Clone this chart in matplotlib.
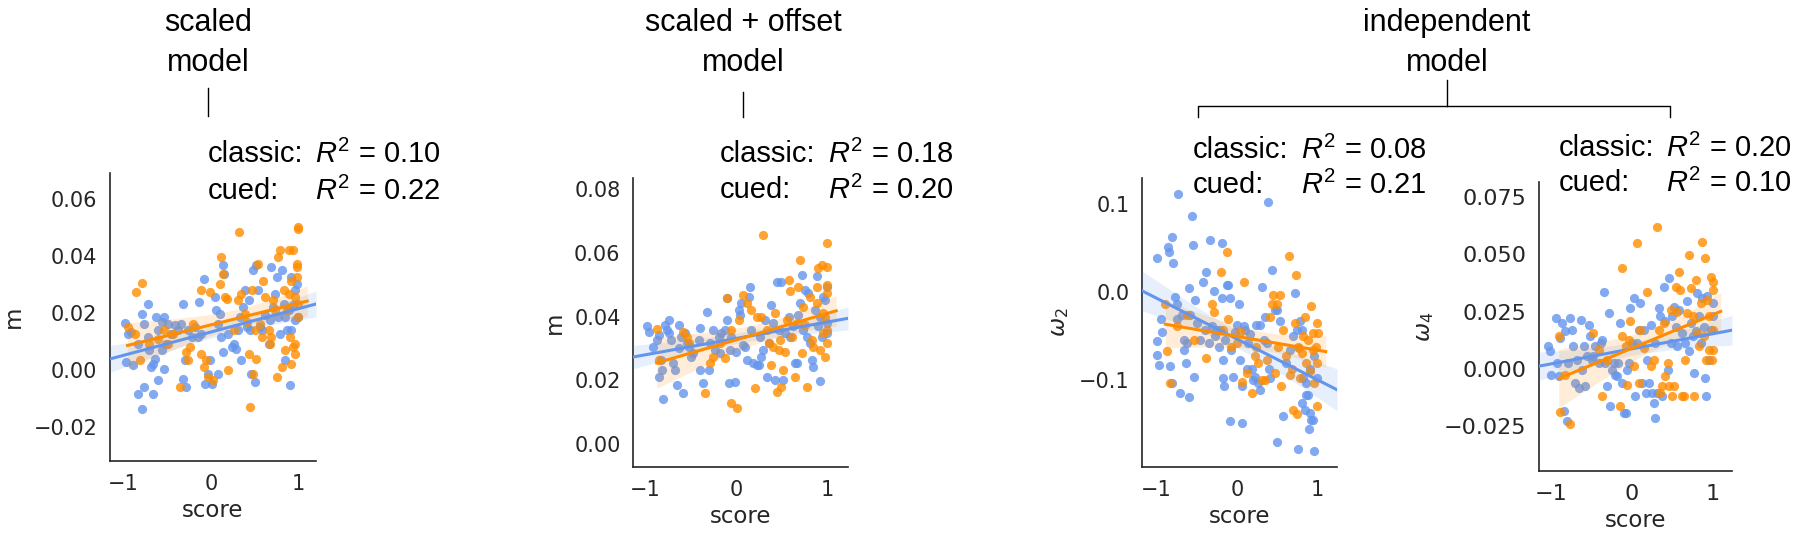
import numpy as np
import matplotlib
matplotlib.use("Agg")
import matplotlib.pyplot as plt
from matplotlib.lines import Line2D

# --- data: (score, parameter) pairs ---
# blue = classic, orange = cued
SCALED_CLASSIC = [
    (-0.98, 0.0164), (-0.95, 0.0126), (-0.91, 0.0132), (-0.97, 0.0027), (-0.89, 0.0015),
    (-0.83, -0.0084), (-0.79, -0.0137), (-0.76, -0.0061), (-0.66, -0.0084), (-0.72, 0.0232),
    (-0.79, 0.0196), (-0.83, 0.0091), (-0.76, 0.0161), (-0.72, 0.0115), (-0.70, 0.0068),
    (-0.64, 0.0039), (-0.66, 0.0021), (-0.68, 0.0009), (-0.62, 0.0185), (-0.60, 0.0138),
    (-0.56, 0.0167), (-0.53, 0.0185), (-0.49, 0.0161), (-0.51, 0.0091), (-0.56, 0.0068),
    (-0.60, -0.0037), (-0.53, 0.0004), (-0.45, 0.0126), (-0.41, 0.0156), (-0.37, 0.0138),
    (-0.34, 0.0161), (-0.32, 0.0232), (-0.30, 0.0033), (-0.32, -0.0032), (-0.28, -0.0061),
    (-0.26, 0.0138), (-0.22, 0.0115), (-0.18, 0.0150), (-0.15, 0.0115), (-0.11, 0.0126),
    (-0.13, 0.0237), (-0.08, 0.0319), (-0.07, -0.0049), (-0.03, -0.0014), (-0.01, 0.0033),
    (0.01, -0.0049), (0.05, 0.0255), (0.06, 0.0208), (0.08, 0.0161), (0.10, 0.0196),
    (0.12, 0.0115), (0.14, 0.0062), (0.08, -0.0014), (0.14, 0.0366), (0.15, 0.0337),
    (0.20, 0.0126), (0.24, 0.0080), (0.27, 0.0091), (0.29, 0.0074), (0.31, 0.0138),
    (0.33, 0.0185), (0.35, 0.0033), (0.37, 0.0220), (0.39, 0.0278), (0.41, 0.0150),
    (0.43, 0.0243), (0.45, 0.0138), (0.46, -0.0014), (0.50, -0.0043), (0.48, 0.0349),
    (0.52, 0.0366), (0.54, 0.0278), (0.56, 0.0150), (0.58, 0.0138), (0.62, 0.0191),
    (0.66, 0.0091), (0.68, 0.0173), (0.69, 0.0360), (0.71, 0.0220), (0.73, 0.0267),
    (0.75, 0.0325), (0.77, 0.0185), (0.79, 0.0126), (0.81, 0.0349), (0.83, 0.0232),
    (0.85, 0.0185), (0.87, 0.0138), (0.89, 0.0208), (0.90, -0.0055), (0.92, 0.0325),
    (0.94, 0.0226), (0.96, 0.0173), (0.98, 0.0302), (1.00, 0.0185), (0.96, 0.0278),
    (0.92, 0.0138), (0.85, 0.0033),
]
SCALED_CUED = [
    (-0.95, 0.0150), (-0.85, 0.0273), (-0.79, 0.0304), (-0.87, 0.0126), (-0.81, 0.0033),
    (-0.70, 0.0091), (-0.60, 0.0109), (-0.53, 0.0138), (-0.49, 0.0091), (-0.43, 0.0126),
    (-0.35, -0.0061), (-0.28, 0.0062), (-0.26, 0.0033), (-0.24, 0.0080), (-0.20, 0.0161),
    (-0.11, 0.0278), (-0.11, 0.0056), (-0.08, 0.0009), (-0.05, 0.0033), (-0.03, -0.0026),
    (-0.01, 0.0273), (0.03, -0.0037), (0.10, 0.0302), (0.12, 0.0395), (0.14, 0.0337),
    (0.16, 0.0255), (0.18, 0.0249), (0.20, -0.0002), (0.27, 0.0138), (0.31, 0.0243),
    (0.32, 0.0483), (0.35, 0.0267), (0.39, 0.0196), (0.41, 0.0167), (0.43, 0.0056),
    (0.45, -0.0131), (0.47, 0.0278), (0.48, -0.0014), (0.50, 0.0138), (0.52, 0.0039),
    (0.54, 0.0372), (0.56, 0.0161), (0.58, 0.0115), (0.60, 0.0313), (0.62, 0.0255),
    (0.66, 0.0138), (0.68, 0.0091), (0.69, 0.0115), (0.71, 0.0243), (0.73, 0.0208),
    (0.75, -0.0026), (0.77, 0.0395), (0.79, 0.0419), (0.81, 0.0009), (0.83, 0.0278),
    (0.85, 0.0068), (0.87, 0.0208), (0.89, 0.0419), (0.90, 0.0115), (0.92, 0.0021),
    (0.94, 0.0080), (0.96, 0.0091), (0.96, 0.0255), (0.98, 0.0372), (0.98, 0.0360),
    (1.00, 0.0501), (1.00, 0.0495), (0.98, 0.0325), (1.00, 0.0185), (1.00, 0.0232),
    (0.94, 0.0419), (0.89, 0.0267), (0.92, 0.0313), (0.96, 0.0056),
]

OFFSET_CLASSIC = [
    (-0.98, 0.0371), (-0.95, 0.0353), (-0.91, 0.0306), (-0.87, 0.0327), (-0.85, 0.0342),
    (-0.84, 0.0212), (-0.82, 0.0264), (-0.81, 0.0232), (-0.80, 0.0140), (-0.78, 0.0374),
    (-0.76, 0.0358), (-0.74, 0.0348), (-0.73, 0.0390), (-0.71, 0.0327), (-0.69, 0.0253),
    (-0.67, 0.0232), (-0.65, 0.0185), (-0.63, 0.0301), (-0.62, 0.0374), (-0.60, 0.0337),
    (-0.58, 0.0159), (-0.56, 0.0348), (-0.54, 0.0316), (-0.52, 0.0306), (-0.49, 0.0274),
    (-0.47, 0.0285), (-0.41, 0.0327), (-0.40, 0.0363), (-0.40, 0.0232), (-0.36, 0.0191),
    (-0.32, 0.0416), (-0.30, 0.0232), (-0.29, 0.0316), (-0.25, 0.0358), (-0.23, 0.0295),
    (-0.19, 0.0337), (-0.18, 0.0285), (-0.16, 0.0348), (-0.12, 0.0358), (-0.10, 0.0390),
    (-0.10, 0.0458), (-0.08, 0.0191), (-0.07, 0.0295), (-0.05, 0.0337), (-0.01, 0.0196),
    (0.00, 0.0290), (0.03, 0.0421), (0.04, 0.0405), (0.06, 0.0442), (0.08, 0.0311),
    (0.10, 0.0306), (0.12, 0.0264), (0.14, 0.0463), (0.15, 0.0494), (0.17, 0.0358),
    (0.19, 0.0253), (0.23, 0.0248), (0.25, 0.0248), (0.26, 0.0337), (0.28, 0.0274),
    (0.30, 0.0295), (0.32, 0.0390), (0.34, 0.0212), (0.36, 0.0316), (0.39, 0.0437),
    (0.41, 0.0379), (0.43, 0.0201), (0.45, 0.0510), (0.47, 0.0358), (0.50, 0.0510),
    (0.52, 0.0201), (0.54, 0.0348), (0.58, 0.0400), (0.59, 0.0337), (0.63, 0.0369),
    (0.65, 0.0253), (0.67, 0.0253), (0.68, 0.0405), (0.72, 0.0531), (0.74, 0.0358),
    (0.76, 0.0484), (0.79, 0.0473), (0.81, 0.0316), (0.83, 0.0264), (0.85, 0.0243),
    (0.87, 0.0421), (0.89, 0.0526), (0.90, 0.0369), (0.92, 0.0199), (0.92, 0.0400),
    (0.96, 0.0463), (0.98, 0.0452), (1.00, 0.0379), (1.00, 0.0494), (1.00, 0.0348),
    (0.94, 0.0337), (0.78, 0.0337), (0.70, 0.0442),
]
OFFSET_CUED = [
    (-0.87, 0.0360), (-0.84, 0.0264), (-0.58, 0.0353), (-0.54, 0.0337), (-0.52, 0.0316),
    (-0.34, 0.0159), (-0.29, 0.0253), (-0.25, 0.0274), (-0.18, 0.0316), (-0.12, 0.0269),
    (-0.10, 0.0458), (-0.05, 0.0358), (-0.05, 0.0128), (0.01, 0.0112), (0.03, 0.0390),
    (0.08, 0.0468), (0.12, 0.0442), (0.17, 0.0421), (0.21, 0.0175), (0.23, 0.0400),
    (0.28, 0.0400), (0.30, 0.0657), (0.34, 0.0358), (0.36, 0.0316), (0.39, 0.0248),
    (0.41, 0.0306), (0.43, 0.0410), (0.45, 0.0164), (0.47, 0.0295), (0.48, 0.0327),
    (0.50, 0.0180), (0.52, 0.0232), (0.54, 0.0290), (0.56, 0.0390), (0.58, 0.0515),
    (0.59, 0.0479), (0.61, 0.0337), (0.65, 0.0212), (0.67, 0.0379), (0.68, 0.0494),
    (0.70, 0.0578), (0.72, 0.0285), (0.74, 0.0431), (0.76, 0.0374), (0.78, 0.0180),
    (0.81, 0.0463), (0.83, 0.0327), (0.85, 0.0306), (0.89, 0.0442), (0.90, 0.0552),
    (0.92, 0.0295), (0.94, 0.0562), (0.96, 0.0348), (0.98, 0.0400), (1.00, 0.0630),
    (1.00, 0.0499), (1.00, 0.0473), (1.00, 0.0316), (0.98, 0.0274), (1.00, 0.0358),
    (1.00, 0.0557), (0.96, 0.0410), (0.89, 0.0494),
]

W2_CLASSIC = [
    (-1.00, 0.039), (-1.00, -0.055), (-0.99, -0.071), (-0.97, -0.083), (-0.95, -0.030),
    (-0.93, -0.045), (-0.86, 0.052), (-0.84, 0.046), (-0.83, -0.084), (-0.81, 0.063),
    (-0.79, 0.033), (-0.81, -0.103), (-0.77, -0.005), (-0.75, -0.014), (-0.73, 0.112),
    (-0.74, -0.031), (-0.71, -0.115), (-0.68, -0.026), (-0.66, -0.054), (-0.66, -0.066),
    (-0.64, -0.081), (-0.62, -0.058), (-0.60, 0.005), (-0.60, -0.119), (-0.58, -0.026),
    (-0.56, 0.087), (-0.55, 0.054), (-0.54, -0.096), (-0.52, -0.009), (-0.50, -0.035),
    (-0.46, -0.054), (-0.42, 0.012), (-0.40, -0.043), (-0.38, 0.023), (-0.35, -0.058),
    (-0.33, 0.059), (-0.31, -0.039), (-0.29, 0.001), (-0.27, -0.050), (-0.25, -0.043),
    (-0.23, -0.062), (-0.21, -0.043), (-0.19, 0.056), (-0.19, -0.007), (-0.18, -0.098),
    (-0.17, -0.077), (-0.16, -0.107), (-0.15, -0.054), (-0.13, 0.008), (-0.11, 0.008),
    (-0.09, -0.007), (-0.09, -0.147), (-0.07, -0.066), (-0.05, -0.096), (-0.02, -0.045),
    (0.00, -0.037), (0.02, -0.013), (0.04, -0.077), (0.06, -0.107), (0.06, -0.149),
    (0.08, -0.039), (0.10, -0.043), (0.12, -0.088), (0.14, -0.058), (0.16, -0.048),
    (0.18, -0.088), (0.20, -0.100), (0.22, -0.096), (0.24, -0.037), (0.26, -0.103),
    (0.28, -0.111), (0.28, -0.037), (0.31, 0.006), (0.33, -0.054), (0.35, -0.028),
    (0.37, -0.058), (0.38, 0.103), (0.39, -0.088), (0.41, -0.098), (0.43, 0.025),
    (0.47, -0.020), (0.49, -0.020), (0.50, -0.170), (0.53, -0.033), (0.57, -0.141),
    (0.61, -0.081), (0.66, -0.066), (0.70, -0.050), (0.72, -0.001), (0.74, -0.043),
    (0.76, -0.179), (0.77, -0.064), (0.78, -0.033), (0.80, -0.126), (0.81, -0.043),
    (0.82, -0.098), (0.84, -0.134), (0.85, -0.103), (0.86, -0.117), (0.88, -0.117),
    (0.89, -0.156), (0.90, -0.138), (0.91, -0.088), (0.92, -0.145), (0.94, -0.145),
    (0.96, -0.181), (0.99, -0.098), (0.96, -0.073),
]
W2_CUED = [
    (-0.89, -0.014), (-0.87, -0.067), (-0.83, -0.103), (-0.75, -0.039), (-0.62, -0.026),
    (-0.54, -0.054), (-0.38, -0.075), (-0.31, -0.013), (-0.29, -0.022), (-0.20, 0.023),
    (-0.17, -0.043), (-0.13, 0.046), (-0.11, -0.030), (-0.07, -0.062), (0.00, -0.058),
    (0.04, -0.045), (0.06, -0.102), (0.08, 0.012), (0.12, -0.092), (0.18, -0.115),
    (0.22, -0.073), (0.24, -0.062), (0.26, -0.081), (0.31, -0.100), (0.35, -0.100),
    (0.37, -0.077), (0.41, -0.028), (0.43, -0.013), (0.45, -0.003), (0.47, -0.092),
    (0.49, -0.013), (0.51, -0.062), (0.53, -0.003), (0.55, -0.107), (0.57, -0.043),
    (0.61, -0.073), (0.64, 0.041), (0.66, -0.094), (0.68, -0.088), (0.70, -0.134),
    (0.72, -0.035), (0.73, 0.020), (0.74, -0.139), (0.76, -0.062), (0.78, -0.098),
    (0.80, -0.069), (0.82, -0.050), (0.84, -0.028), (0.86, -0.081), (0.88, -0.054),
    (0.90, -0.090), (0.92, -0.016), (0.94, -0.066), (0.94, -0.047), (0.96, -0.103),
    (0.98, -0.062), (0.99, -0.035), (0.99, -0.130), (1.00, -0.047), (0.99, -0.081),
]

W4_CLASSIC = [
    (-1.04, 0.0101), (-1.02, 0.0077), (-1.00, -0.0025), (-0.95, 0.0222), (-0.93, 0.0026),
    (-0.91, -0.0032), (-0.89, 0.0135), (-0.87, 0.0200), (-0.85, -0.0184), (-0.83, 0.0164),
    (-0.81, -0.0227), (-0.79, 0.0026), (-0.77, 0.0222), (-0.75, 0.0171), (-0.73, 0.0098),
    (-0.71, -0.0061), (-0.68, 0.0041), (-0.66, -0.0083), (-0.64, 0.0214), (-0.62, -0.0003),
    (-0.60, 0.0098), (-0.58, -0.0075), (-0.56, 0.0055), (-0.54, 0.0193), (-0.52, 0.0142),
    (-0.50, 0.0041), (-0.48, 0.0055), (-0.46, 0.0098), (-0.41, 0.0026), (-0.39, 0.0113),
    (-0.37, 0.0127), (-0.35, 0.0337), (-0.33, 0.0026), (-0.31, -0.0075), (-0.29, 0.0243),
    (-0.27, -0.0162), (-0.25, -0.0003), (-0.23, 0.0026), (-0.21, -0.0025), (-0.19, -0.0032),
    (-0.17, 0.0026), (-0.15, 0.0200), (-0.12, -0.0061), (-0.10, -0.0191), (-0.08, -0.0191),
    (-0.06, -0.0003), (-0.04, 0.0026), (-0.02, 0.0265), (0.00, 0.0113), (0.02, 0.0308),
    (0.04, -0.0119), (0.06, 0.0113), (0.08, 0.0171), (0.10, 0.0287), (0.12, -0.0061),
    (0.15, 0.0171), (0.17, -0.0104), (0.19, 0.0041), (0.21, -0.0061), (0.23, 0.0193),
    (0.25, -0.0104), (0.27, -0.0148), (0.28, -0.0213), (0.29, 0.0113), (0.31, -0.0104),
    (0.33, 0.0265), (0.35, 0.0229), (0.37, -0.0119), (0.39, 0.0359), (0.41, 0.0207),
    (0.44, -0.0003), (0.46, 0.0395), (0.48, 0.0113), (0.50, 0.0229), (0.52, 0.0272),
    (0.54, 0.0185), (0.56, 0.0098), (0.58, 0.0258), (0.62, 0.0156), (0.66, 0.0113),
    (0.68, 0.0294), (0.71, 0.0077), (0.73, 0.0200), (0.75, 0.0142), (0.77, -0.0017),
    (0.79, 0.0164), (0.81, 0.0330), (0.83, 0.0229), (0.85, 0.0113), (0.87, 0.0308),
    (0.89, 0.0185), (0.91, -0.0039), (0.92, -0.0119), (0.93, 0.0316), (0.95, 0.0041),
    (0.98, 0.0171), (1.00, 0.0287), (1.00, 0.0229),
]
W4_CUED = [
    (-0.91, 0.0142), (-0.89, -0.0188), (-0.83, -0.0025), (-0.77, -0.0242), (-0.48, 0.0156),
    (-0.41, 0.0084), (-0.37, -0.0119), (-0.31, 0.0041), (-0.15, -0.0162), (-0.13, 0.0439),
    (-0.12, 0.0142), (-0.08, 0.0098), (-0.06, -0.0068), (-0.04, 0.0127), (-0.02, 0.0207),
    (0.02, 0.0012), (0.06, 0.0547), (0.08, -0.0061), (0.10, 0.0171), (0.15, 0.0091),
    (0.19, 0.0337), (0.23, 0.0012), (0.27, 0.0041), (0.31, 0.0620), (0.33, 0.0171),
    (0.35, -0.0104), (0.37, -0.0075), (0.39, 0.0200), (0.41, -0.0032), (0.44, 0.0026),
    (0.46, -0.0075), (0.48, 0.0258), (0.50, -0.0119), (0.52, -0.0075), (0.54, 0.0359),
    (0.56, 0.0250), (0.58, 0.0424), (0.60, 0.0345), (0.62, -0.0119), (0.64, -0.0119),
    (0.66, 0.0041), (0.68, 0.0243), (0.71, 0.0497), (0.73, 0.0352), (0.75, 0.0229),
    (0.77, -0.0119), (0.79, 0.0388), (0.81, 0.0156), (0.83, 0.0098), (0.85, 0.0287),
    (0.87, 0.0555), (0.89, 0.0142), (0.91, 0.0482), (0.92, 0.0041), (0.93, 0.0301),
    (0.95, 0.0084), (0.95, 0.0229), (0.98, 0.0402), (1.00, 0.0345), (1.00, 0.0171),
    (1.00, 0.0381), (1.00, 0.0084), (0.99, 0.0041),
]

R2_CLASSIC = ["0.10", "0.18", "0.08", "0.20"]
R2_CUED = ["0.22", "0.20", "0.21", "0.10"]
Y_LABELS = ["m", "m", r"$\mathsf{\omega}_\mathtt{2}$", r"$\mathsf{\omega}_\mathtt{4}$"]
Y_TICKS = [
    [-0.02, 0.0, 0.02, 0.04, 0.06],
    [0.0, 0.02, 0.04, 0.06, 0.08],
    [-0.1, 0.0, 0.1],
    [-0.025, 0.0, 0.025, 0.05, 0.075],
]
X_TICKS = [-1, 0, 1]

# layout in pixels of the 1800x534 figure: (left, top, right, bottom)
AXES_PX = [(110, 173, 316, 461), (633, 178, 848, 467),
           (1142, 178, 1337, 467), (1539, 182, 1732, 471)]
XLIMS = [(-1.15, 1.2), (-1.13, 1.23), (-1.18, 1.24), (-1.155, 1.24)]
YLIMS = [(-0.032, 0.069), (-0.0072, 0.0835), (-0.199, 0.13), (-0.0445, 0.0815)]
TICK_SIZES = [15, 15, 15, 16]
# annotation anchors: (x of "classic:", x of R, y line 1, y line 2)
ANNOT_PX = [(208, 315, 154, 191), (720, 828, 154, 190),
            (1193, 1301, 150, 185), (1559, 1666, 148, 183)]

BLUE = "#6495ED"
ORANGE = "#FF8C00"
CUED_FIT_END = 1.1

W, H = 1800, 534


def fx(px):
    return px / W


def fy(py):
    return 1 - py / H


def fit_band(data, xs):
    x, y = data[:, 0], data[:, 1]
    slope, icpt = np.polyfit(x, y, 1)
    yhat = icpt + slope * xs
    resid = y - (icpt + slope * x)
    n = len(x)
    s = np.sqrt(np.sum(resid ** 2) / (n - 2))
    se = s * np.sqrt(1 / n + (xs - x.mean()) ** 2 / np.sum((x - x.mean()) ** 2))
    return yhat, 1.96 * se


def main():
    plt.rcParams.update({
        "font.family": "DejaVu Sans",
        "mathtext.fontset": "custom",
        "mathtext.rm": "Liberation Sans",
        "mathtext.it": "Liberation Sans:italic",
        "mathtext.bf": "Liberation Sans:bold",
        # omega labels keep the DejaVu look
        "mathtext.sf": "DejaVu Sans:italic",
        "mathtext.tt": "DejaVu Sans",
        "axes.edgecolor": "#262626",
        "axes.linewidth": 1.2,
    })
    fig = plt.figure(figsize=(18, 5.34), dpi=100)

    panels = [(SCALED_CLASSIC, SCALED_CUED), (OFFSET_CLASSIC, OFFSET_CUED),
              (W2_CLASSIC, W2_CUED), (W4_CLASSIC, W4_CUED)]

    for i, (classic, cued) in enumerate(panels):
        l, t, r, b = AXES_PX[i]
        ax = fig.add_axes([fx(l), fy(b), (r - l) / W, (b - t) / H])
        classic = np.array(classic)
        cued = np.array(cued)

        ax.scatter(classic[:, 0], classic[:, 1], s=44, color=BLUE, alpha=0.8,
                   linewidths=0, zorder=2)
        ax.scatter(cued[:, 0], cued[:, 1], s=44, color=ORANGE, alpha=0.8,
                   linewidths=0, zorder=2)

        xs_b = np.linspace(XLIMS[i][0], XLIMS[i][1], 100)
        yb, eb = fit_band(classic, xs_b)
        xs_o = np.linspace(cued[:, 0].min(), CUED_FIT_END, 100)
        yo, eo = fit_band(cued, xs_o)
        ax.fill_between(xs_b, yb - eb, yb + eb, color=BLUE, alpha=0.15, lw=0, zorder=3)
        ax.fill_between(xs_o, yo - eo, yo + eo, color=ORANGE, alpha=0.15, lw=0, zorder=3)
        ax.plot(xs_b, yb, color=BLUE, lw=2.2, zorder=4)
        ax.plot(xs_o, yo, color=ORANGE, lw=2.2, zorder=4)

        ax.set_xlim(*XLIMS[i])
        ax.set_ylim(*YLIMS[i])
        ax.set_xticks(X_TICKS)
        ax.set_yticks(Y_TICKS[i])
        ax.tick_params(length=0, labelsize=TICK_SIZES[i], labelcolor="#262626", pad=9)
        for side in ["top", "right"]:
            ax.spines[side].set_visible(False)
        ax.set_xlabel("score", fontsize=16.5, color="#262626", labelpad=4)
        ax.set_ylabel(Y_LABELS[i], fontsize=16.5, color="#262626", labelpad=6)

        cx, rx, y1, y2 = ANNOT_PX[i]
        kw = dict(fontsize=21, family="Liberation Sans", va="center", ha="left")
        fig.text(fx(cx), fy(y1), "classic:", **kw)
        fig.text(fx(cx), fy(y2), "cued:", **kw)
        fig.text(fx(rx), fy(y1), r"$R^2$ = " + R2_CLASSIC[i], **kw)
        fig.text(fx(rx), fy(y2), r"$R^2$ = " + R2_CUED[i], **kw)

    # group titles
    tkw = dict(fontsize=22, family="Liberation Sans", ha="center", va="center")
    for cx, lines in [(208, ("scaled", "model")), (743, ("scaled + offset", "model")),
                      (1447, ("independent", "model"))]:
        fig.text(fx(cx), fy(23), lines[0], **tkw)
        fig.text(fx(cx), fy(63), lines[1], **tkw)

    lkw = dict(color="black", lw=1.0)
    fig.add_artist(Line2D([fx(208), fx(208)], [fy(88), fy(116)], **lkw))
    fig.add_artist(Line2D([fx(743), fx(743)], [fy(92), fy(117)], **lkw))
    fig.add_artist(Line2D([fx(1447), fx(1447)], [fy(80), fy(106)], **lkw))
    fig.add_artist(Line2D([fx(1198), fx(1198), fx(1670), fx(1670)],
                          [fy(117), fy(106), fy(106), fy(117)], **lkw))

    fig.savefig("out.png", dpi=100)


if __name__ == "__main__":
    main()
